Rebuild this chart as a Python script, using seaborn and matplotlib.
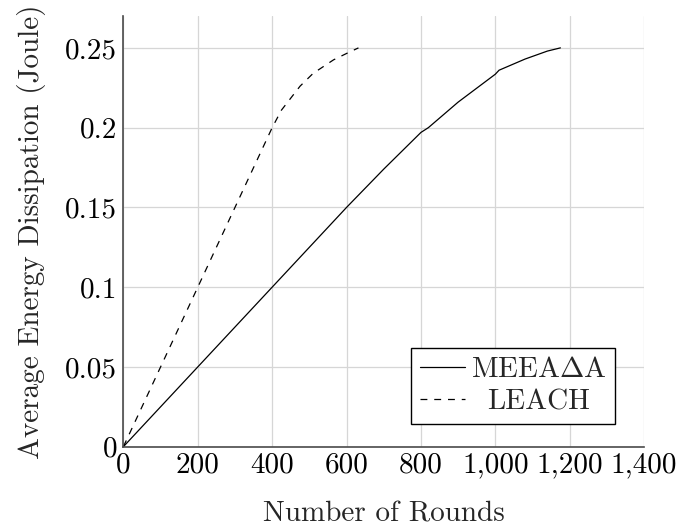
import matplotlib
matplotlib.use("Agg")
import matplotlib.pyplot as plt
import seaborn as sns
from matplotlib.transforms import Affine2D

# ---- data ----
rounds_meeaa = [0, 200, 400, 600, 700, 800, 820, 900, 1000, 1010, 1080, 1140, 1175]
energy_meeaa = [0, 0.05, 0.10, 0.15, 0.174, 0.197, 0.20, 0.216, 0.2335, 0.236, 0.243, 0.248, 0.25]
rounds_leach = [0, 100, 200, 300, 400, 425, 475, 510, 565, 600, 632]
energy_leach = [0, 0.05, 0.10, 0.15, 0.20, 0.211, 0.226, 0.234, 0.2425, 0.2465, 0.25]
series_labels = [r"MEEA$\Delta$A", "LEACH"]
x_ticks = [0, 200, 400, 600, 800, 1000, 1200, 1400]
y_ticks = [0, 0.05, 0.10, 0.15, 0.20, 0.25]
x_label = "Number of Rounds"
y_label = "Average Energy Dissipation (Joule)"

sns.set_style("white")
plt.rcParams["font.family"] = "serif"
plt.rcParams["font.serif"] = ["cmr10"]
plt.rcParams["mathtext.fontset"] = "cm"
plt.rcParams["axes.formatter.use_mathtext"] = True
plt.rcParams["axes.unicode_minus"] = False

FS = 21
fig = plt.figure(figsize=(6.78, 5.29), dpi=100)
ax = fig.add_axes([0.182, 0.1556, 0.768, 0.8142])

sns.lineplot(x=rounds_meeaa, y=energy_meeaa, ax=ax, color="black", lw=0.9,
             label=series_labels[0], sort=False)
sns.lineplot(x=rounds_leach, y=energy_leach, ax=ax, color="black", lw=0.9,
             linestyle=(0, (5.5, 5.5)), label=series_labels[1], sort=False)

ax.set_xlim(0, 1400)
ax.set_ylim(0, 0.27)
ax.set_xticks(x_ticks, labels=[f"{v:,}" for v in x_ticks])
ax.set_yticks(y_ticks, labels=[f"{v:g}" for v in y_ticks])
ax.tick_params(axis="both", direction="in", length=7, width=1.0, color="#9a9a9a",
               labelsize=FS, labelcolor="black")
ax.tick_params(axis="x", pad=4)
ax.tick_params(axis="y", pad=4.5)
ax.grid(True, color="#d6d6d6", lw=0.9)
ax.set_axisbelow(True)
for s in ["top", "right"]:
    ax.spines[s].set_visible(False)
for s in ["left", "bottom"]:
    ax.spines[s].set_color("#4a4a4a")
    ax.spines[s].set_linewidth(1.2)

ax.set_xlabel(x_label, fontsize=FS, labelpad=16)
ax.set_ylabel(y_label, fontsize=FS, labelpad=14)

leg = ax.legend(loc="lower right", bbox_to_anchor=(0.9445, 0.052), borderaxespad=0,
                fontsize=FS, frameon=True, fancybox=False, edgecolor="black",
                framealpha=1, handlelength=1.55, handletextpad=0.2,
                labelspacing=0.2, borderpad=0.3)
leg.get_frame().set_linewidth(1.0)

# center legend texts in their column like pgfplots
fig.canvas.draw()
r = fig.canvas.get_renderer()
texts = leg.get_texts()
widths = [t.get_window_extent(r).width for t in texts]
wmax = max(widths)
for t, w in zip(texts, widths):
    dx = (wmax - w) / 2.0
    if dx > 0:
        t.set_transform(t.get_transform() + Affine2D().translate(dx, 0))

fig.savefig("out.png", dpi=100)
